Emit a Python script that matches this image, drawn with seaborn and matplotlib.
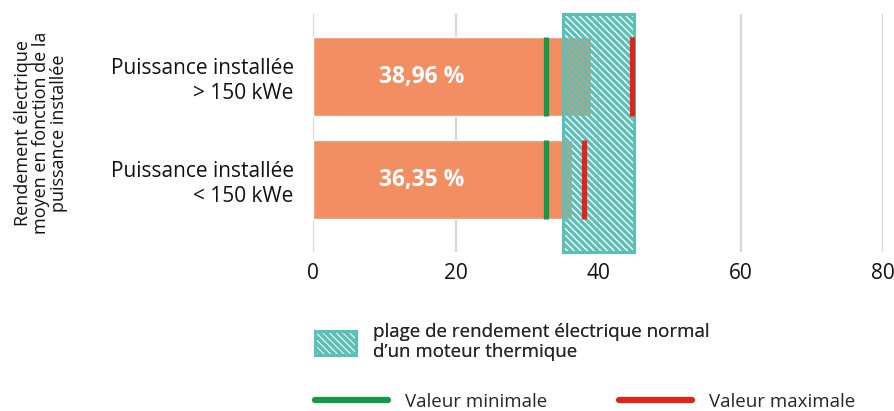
import seaborn as sns
import matplotlib.pyplot as plt
from matplotlib.patches import Rectangle, Patch
from matplotlib.lines import Line2D

# data
categories = ["Puissance installée\n> 150 kWe", "Puissance installée\n< 150 kWe"]
moyenne = [38.96, 36.35]
minimum = [32.6, 32.6]
maximum = [44.7, 38.0]
labels_moy = ["38,96 %", "36,35 %"]
plage = [35, 45]  # plage normale moteur thermique
xticks = [0, 20, 40, 60, 80]

orange = "#F28E62"
vert = "#12994A"
rouge = "#E2231A"
teal = "#5BC1B8"
hatch = "\\\\\\\\\\"

sns.set_style("white")
plt.rcParams['font.family'] = ['Open Sans', 'DejaVu Sans']
plt.rcParams['hatch.linewidth'] = 2.4

fig = plt.figure(figsize=(8.95, 4.11), dpi=100)
ax = fig.add_axes([0.35, 0.387, 0.637, 0.579])

bar_h = 0.77
sns.barplot(x=moyenne, y=categories, color=orange, width=bar_h, saturation=1,
            orient="h", ax=ax, zorder=2)

ax.set_ylim(1.70, -0.61)
ax.set_xlim(0, 80)
ax.set_xticks(xticks)
ax.grid(axis="x", color="#d6d6d6", lw=1.6, zorder=0)
ax.set_axisbelow(True)
for s in ax.spines.values():
    s.set_visible(False)
ax.tick_params(axis="both", length=0, labelsize=15, colors="#111111")
ax.tick_params(axis="y", pad=14)
ax.tick_params(axis="x", pad=8)
for t in ax.get_yticklabels():
    t.set_ha("right")
    t.set_multialignment("right")

# plage normale (hachures)
y0, y1 = ax.get_ylim()
rect = Rectangle((plage[0], y1), plage[1] - plage[0], y0 - y1,
                 facecolor="none", edgecolor=teal, hatch=hatch, lw=2.2,
                 zorder=3, clip_on=False)
ax.add_patch(rect)

# min / max
pos = range(len(categories))
for i in pos:
    ax.vlines(minimum[i], i - bar_h / 2, i + bar_h / 2, color=vert, lw=3.8, zorder=4)
    ax.vlines(maximum[i], i - bar_h / 2, i + bar_h / 2, color=rouge, lw=3.8, zorder=4)
    ax.text(15.2, i, labels_moy[i], color="white", fontsize=16.5, fontweight="bold",
            ha="center", va="center", zorder=5)

ax.set_ylabel("Rendement électrique\nmoyen en fonction de la\npuissance installée",
              fontsize=13, color="#111111", labelpad=0, linespacing=1.0)
ax.yaxis.set_label_coords(-0.43, 0.5)
ax.set_xlabel("")

# legends
leg1 = fig.legend(handles=[Patch(facecolor="none", edgecolor=teal, hatch=hatch, lw=2.2)],
                  labels=["plage de rendement électrique normal\nd\u2019un moteur thermique"],
                  loc="upper left", bbox_to_anchor=(0.352, 0.215), frameon=False,
                  fontsize=13.5, handlelength=2.2, handleheight=1.6, handletextpad=0.9,
                  borderpad=0, borderaxespad=0)
fig.add_artist(leg1)
fig.legend(handles=[Line2D([], [], color=vert, lw=4.5), Line2D([], [], color=rouge, lw=4.5)],
           labels=["Valeur minimale", "Valeur maximale"], ncol=2,
           loc="lower left", bbox_to_anchor=(0.352, 0.0), frameon=False,
           fontsize=13.5, handlelength=3.9, handletextpad=0.9, columnspacing=3.8,
           borderpad=0, borderaxespad=0)

fig.savefig("out.png", dpi=100)
